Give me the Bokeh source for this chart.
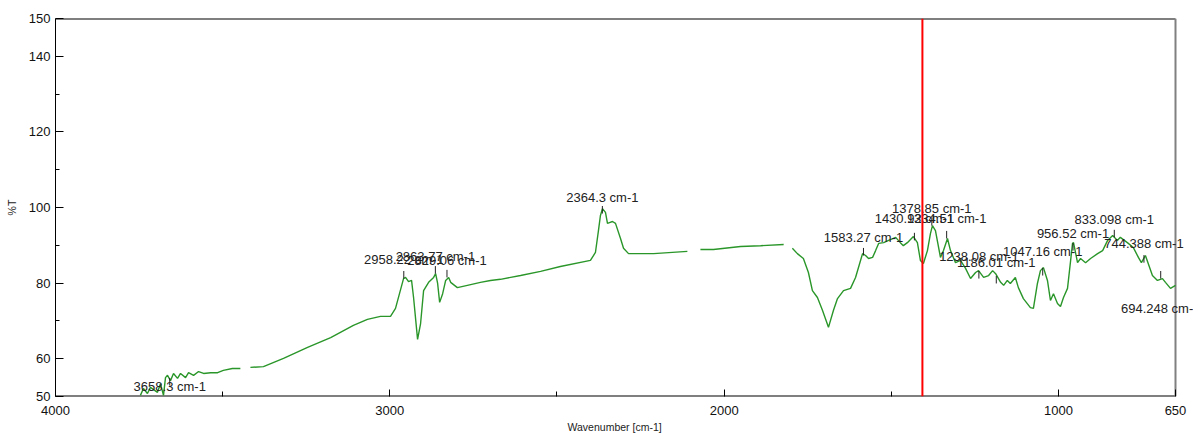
from bokeh.plotting import figure
from bokeh.models import Range1d, FixedTicker, Span, LabelSet, ColumnDataSource, Title
from bokeh.core.properties import value
from bokeh.embed import file_html
from bokeh.resources import INLINE

nan = float("nan")

# IR spectrum (wavenumber cm-1, %T); NaN = gap in trace
wavenumber = [
    3746, 3737, 3725, 3716, 3695, 3686, 3677, 3671, 3665, 3656,
    3647, 3635, 3626, 3611, 3602, 3587, 3572, 3557, 3536, 3515,
    3498, 3471, 3447, nan, 3417, 3378, 3318, 3246, 3177, 3109,
    3067, 3028, 2998, 2983, 2959, 2953, 2944, 2935, 2929, 2917,
    2908, 2899, 2884, 2869, 2863, 2857, 2851, 2842, 2833, 2824,
    2818, 2798, 2768, 2729, 2699, 2669, 2609, 2549, 2490, 2400,
    2385, 2376, 2370, 2364, 2355, 2349, 2343, 2334, 2325, 2310,
    2301, 2286, 2211, 2110, nan, 2071, 2032, 1951, 1891, 1822,
    nan, 1796, 1781, 1763, 1748, 1736, 1721, 1706, 1688, 1673, 1661,
    1643, 1622, 1607, 1586, 1577, 1568, 1556, 1547, 1538, 1523,
    1508, 1487, 1473, 1464, 1452, 1434, 1422, 1413, 1404, 1392,
    1383, 1377, 1368, 1353, 1344, 1332, 1323, 1308, 1293, 1278,
    1263, 1248, 1239, 1224, 1209, 1197, 1188, 1173, 1164, 1153,
    1144, 1129, 1120, 1105, 1084, 1075, 1063, 1054, 1045, 1033,
    1024, 1015, 1003, 994, 985, 973, 958, 955, 943, 934,
    919, 904, 883, 868, 853, 838, 824, 815, 794, 776,
    761, 752, 740, 719, 704, 689, 680, 665, 650,
]
transmittance = [
    50.3, 52.1, 50.8, 52.4, 51.1, 53.4, 50.3, 55.0, 55.6, 54.2,
    56.1, 54.8, 56.1, 55.0, 56.3, 55.6, 56.6, 56.1, 56.3, 56.3,
    56.9, 57.4, 57.4, nan, 57.7, 57.9, 60.1, 63.0, 65.6, 68.8,
    70.4, 71.2, 71.2, 73.3, 81.2, 81.5, 80.4, 80.7, 76.2, 65.1,
    69.3, 78.0, 80.2, 81.5, 82.5, 79.9, 74.9, 77.2, 80.7, 81.5,
    80.2, 78.8, 79.4, 80.2, 80.7, 81.0, 82.0, 83.1, 84.4, 86.0,
    88.1, 93.9, 97.9, 99.7, 98.7, 95.8, 96.0, 96.3, 95.8, 91.8,
    89.2, 87.8, 87.8, 88.4, nan, 88.9, 88.9, 89.7, 89.9, 90.2,
    nan, 89.2, 87.8, 86.5, 82.8, 78.0, 76.2, 72.8, 68.3, 72.8, 75.9,
    78.0, 78.6, 81.5, 87.8, 87.3, 86.5, 86.8, 88.6, 90.5, 90.7,
    91.3, 92.1, 90.7, 89.9, 90.7, 92.3, 90.7, 86.0, 85.2, 88.6,
    93.1, 95.2, 93.9, 86.8, 88.6, 91.8, 88.6, 85.4, 86.0, 83.9,
    81.2, 82.8, 83.3, 81.5, 82.0, 83.3, 82.5, 80.2, 79.4, 80.7,
    79.9, 81.5, 78.8, 75.9, 73.5, 73.3, 79.9, 83.3, 84.1, 80.7,
    75.4, 77.2, 74.6, 73.8, 76.2, 78.6, 90.5, 90.7, 85.4, 86.5,
    85.4, 86.5, 87.8, 88.6, 91.3, 92.6, 91.3, 92.1, 90.7, 89.4,
    86.8, 85.4, 87.3, 82.0, 80.7, 81.2, 80.2, 78.6, 79.4,
]

# Peak picks
peak_labels = ["3658.3 cm-1", "2958.22 cm-1", "2863.77 cm-1", "2829.06 cm-1",
               "2364.3 cm-1", "1583.27 cm-1", "1430.92 cm-1", "1378.85 cm-1",
               "1334.51 cm-1", "1238.08 cm-1", "1186.01 cm-1", "1047.16 cm-1",
               "956.52 cm-1", "833.098 cm-1", "744.388 cm-1", "694.248 cm-1"]
peak_wn = [3658.3, 2958.22, 2863.77, 2829.06, 2364.3, 1583.27, 1430.92, 1378.85,
           1334.51, 1238.08, 1186.01, 1047.16, 956.52, 833.098, 744.388, 694.248]
peak_T = [52.9, 81.2, 82.5, 81.5, 98.4, 87.3, 91.3, 95.2,
          91.8, 81.2, 79.9, 82.0, 88.6, 92.1, 85.4, 81.2]
label_T = [52.6, 86.2, 87.0, 86.0, 102.6, 92.1, 97.1, 99.7,
           97.1, 87.0, 85.4, 88.4, 93.1, 96.8, 90.5, 73.3]

cursor_wn = 1407

x_start, x_end = 4000, 650
y_start, y_end = 50, 150
x_major = [4000, 3000, 2000, 1000, 650]
x_minor = [3500, 2500, 1500]
y_major = [50, 60, 80, 100, 120, 140, 150]
y_minor = [70, 90, 110, 130]
x_title = "Wavenumber [cm-1]"
y_title = "%T"

FONT = "Liberation Sans"

W, H = 1193, 437
left, right, top, bottom = 55, 18, 18, 41
# extend the data range past 650 so that peak labels can run to the window edge
px_per_unit = (W - left - right) / (x_start - x_end)
x_view_end = x_end - right / px_per_unit

p = figure(width=W, height=H, output_backend="svg", toolbar_location=None,
           x_range=Range1d(x_start, x_view_end), y_range=Range1d(y_start, y_end),
           min_border_left=left, min_border_right=0, min_border_top=top,
           min_border_bottom=bottom)
p.xgrid.visible = False
p.ygrid.visible = False
p.outline_line_color = None
p.background_fill_color = "white"
p.border_fill_color = "white"

for ax in (p.xaxis[0], p.yaxis[0]):
    ax.axis_line_color = "black"
    ax.major_tick_line_color = "black"
    ax.minor_tick_line_color = "black"
    ax.major_tick_out = 0
    ax.minor_tick_out = 0
    ax.major_label_text_font = FONT
    ax.major_label_text_font_size = "13px"
    ax.major_label_text_color = "#111111"
    ax.axis_label_text_font = FONT
    ax.axis_label_text_font_style = "normal"
    ax.axis_label_text_font_size = "10.5px"
    ax.axis_label_text_color = "#222222"

p.xaxis.axis_line_color = None
p.xaxis.ticker = FixedTicker(ticks=x_major, minor_ticks=x_minor)
p.yaxis.ticker = FixedTicker(ticks=y_major, minor_ticks=y_minor)
p.xaxis.major_tick_in = 7
p.xaxis.minor_tick_in = 5
p.yaxis.major_tick_in = 8
p.yaxis.minor_tick_in = 4
p.xaxis.major_label_standoff = 9
p.yaxis.major_label_standoff = 5
p.yaxis.axis_label = y_title
p.yaxis.axis_label_standoff = 8

# x-axis title centred under the drawn frame (not the extended view)
p.add_layout(Title(text=x_title, align="left", offset=512, standoff=3,
                   text_font=FONT, text_font_size="10.5px",
                   text_font_style="normal", text_color="#222222"), "below")

# frame lines (top and bottom black, right grey)
p.segment(x0=[x_start, x_start], y0=[y_end, y_start], x1=[x_end, x_end],
          y1=[y_end, y_start], line_color="black", line_width=2)
p.segment(x0=[x_end], y0=[y_start], x1=[x_end], y1=[y_end],
          line_color="gray", line_width=2)

p.line(wavenumber, transmittance, line_color="#2a962a", line_width=1.4)

tick_hi = [t + 2.0 for t in peak_T]
p.segment(x0=peak_wn, y0=peak_T, x1=peak_wn, y1=tick_hi,
          line_color="#222222", line_width=1)

src = ColumnDataSource(dict(x=peak_wn, y=label_T, text=peak_labels))
p.add_layout(LabelSet(x="x", y="y", text="text", source=src,
                      text_align="center", text_baseline="middle",
                      text_font=value(FONT), text_font_size=value("13px"),
                      text_color="#222222"))

p.add_layout(Span(location=cursor_wn, dimension="height",
                  line_color="red", line_width=2))

open("out.html", "w").write(file_html(p, INLINE))
